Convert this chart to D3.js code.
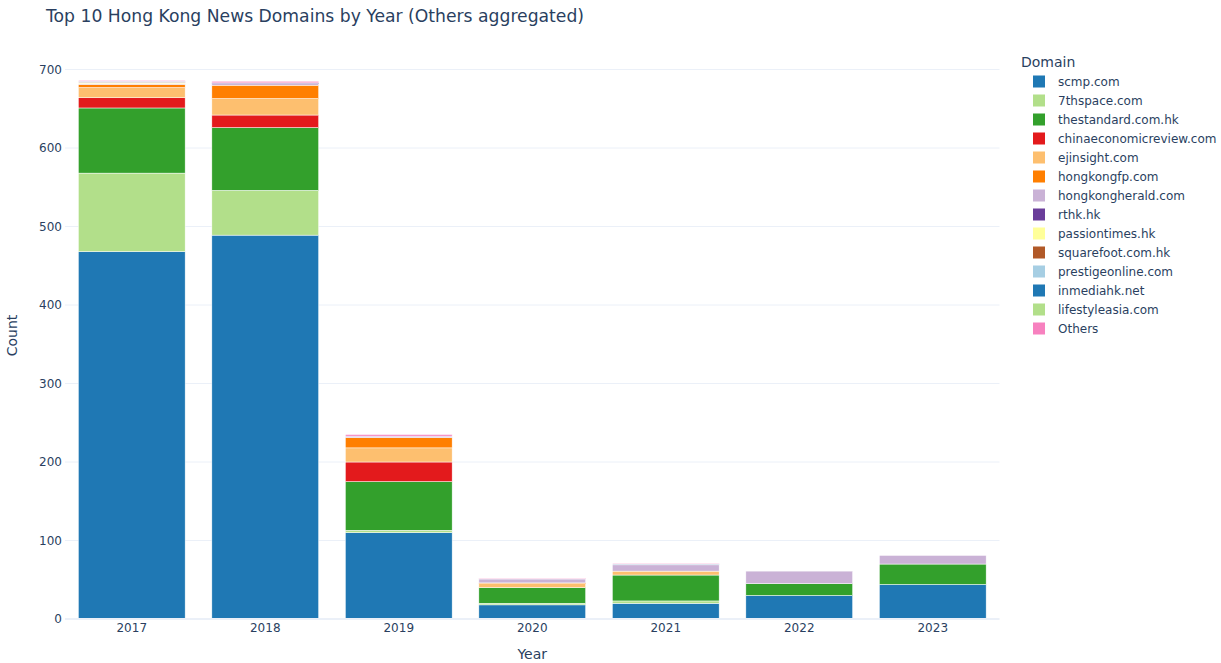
<!DOCTYPE html>
<html>
<head>
<meta charset="utf-8">
<script src="https://cdn.jsdelivr.net/npm/d3@7"></script>
<style>
  html, body { margin: 0; padding: 0; background: #fff; }
  svg { display: block; font-family: "DejaVu Sans", Verdana, sans-serif; }
</style>
</head>
<body>
<svg id="chart" width="1221" height="663"></svg>
<script>
const years = ["2017", "2018", "2019", "2020", "2021", "2022", "2023"];
const domains = ["scmp.com", "7thspace.com", "thestandard.com.hk", "chinaeconomicreview.com",
  "ejinsight.com", "hongkongfp.com", "hongkongherald.com", "rthk.hk", "passiontimes.hk",
  "squarefoot.com.hk", "prestigeonline.com", "inmediahk.net", "lifestyleasia.com", "Others"];
const domainColors = ["#1F78B4", "#B2DF8A", "#33A02C", "#E31A1C", "#FDBF6F", "#FF7F00",
  "#CAB2D6", "#6A3D9A", "#FFFF99", "#B15928", "#A6CEE3", "#1F78B4", "#B2DF8A", "#F781BF"];

// values per domain, one entry per year (2017..2023)
const scmp           = [468, 489, 110, 18, 20, 30, 44];
const seventhspace   = [100, 57, 3, 2, 3, 0, 0];
const thestandard    = [83, 80, 62, 20, 33, 15, 26];
const chinaeconomic  = [13, 16, 25, 0, 0, 0, 0];
const ejinsight      = [13, 21, 18, 5, 5, 0, 0];
const hongkongfp     = [4, 17, 13, 1, 0, 0, 0];
const hongkongherald = [1, 2, 2, 5, 8, 16, 11];
const rthk           = [0, 1, 0, 0, 0, 0, 0];
const passiontimes   = [1, 0, 0, 0, 0, 0, 0];
const squarefoot     = [1, 0, 0, 0, 0, 0, 0];
const prestigeonline = [0, 0, 0, 0, 0, 0, 0];
const inmediahk      = [1, 0, 0, 0, 1, 0, 0];
const lifestyleasia  = [0, 0, 0, 0, 0, 0, 0];
const others         = [1, 2, 2, 1, 1, 0, 0];

const yTicks = [0, 100, 200, 300, 400, 500, 600, 700];

const seriesValues = [scmp, seventhspace, thestandard, chinaeconomic, ejinsight, hongkongfp,
  hongkongherald, rthk, passiontimes, squarefoot, prestigeonline, inmediahk, lifestyleasia, others];

const table = years.map((y, i) => {
  const row = { year: y };
  domains.forEach((d, j) => { row[d] = seriesValues[j][i]; });
  return row;
});

const svg = d3.select("#chart");
const margin = { left: 65, right: 999.5, top: 52, bottom: 619 };
const textColor = "#2a3f5f";
const gridColor = "#EBF0F8";
const fontFam = '"DejaVu Sans", Verdana, sans-serif';

const x = d3.scaleBand().domain(years).range([margin.left, margin.right]).paddingInner(0.2).paddingOuter(0.1);
const y = d3.scaleLinear().domain([0, 700]).range([619, 69.5]);

// gridlines
const gridG = svg.append("g");
gridG.selectAll("line").data(yTicks.filter(t => t > 0)).join("line")
  .attr("x1", margin.left).attr("x2", margin.right)
  .attr("y1", d => y(d)).attr("y2", d => y(d))
  .attr("stroke", gridColor).attr("stroke-width", 1);

// stacked bars
const stack = d3.stack().keys(domains);
const stacked = stack(table);
const barsG = svg.append("g");
stacked.forEach((layer, j) => {
  barsG.append("g").attr("fill", domainColors[j])
    .selectAll("rect").data(layer.filter(d => d[1] - d[0] > 0)).join("rect")
    .attr("x", d => x(d.data.year))
    .attr("width", x.bandwidth())
    .attr("y", d => y(d[1]))
    .attr("height", d => y(d[0]) - y(d[1]))
    .attr("stroke", "#fff").attr("stroke-width", 0.5);
});

// zero line
svg.append("line").attr("x1", margin.left).attr("x2", margin.right)
  .attr("y1", y(0)).attr("y2", y(0)).attr("stroke", gridColor).attr("stroke-width", 2);

// y axis
const yAxis = d3.axisLeft(y).tickValues(yTicks).tickSize(0).tickPadding(0);
const yg = svg.append("g").attr("transform", `translate(${margin.left - 3},0)`).call(yAxis);
yg.select(".domain").remove();
yg.selectAll("text").attr("fill", textColor).style("font-size", "12px").style("font-family", fontFam);

// x axis
const xAxis = d3.axisBottom(x).tickSize(0).tickPadding(0);
const xg = svg.append("g").attr("transform", `translate(0,${y(0) + 4})`).call(xAxis);
xg.select(".domain").remove();
xg.selectAll("text").attr("fill", textColor).style("font-size", "12px").style("font-family", fontFam);

// axis titles
svg.append("text").attr("x", (margin.left + margin.right) / 2).attr("y", 659)
  .attr("text-anchor", "middle").attr("fill", textColor).style("font-size", "14px").text("Year");
svg.append("text").attr("transform", `translate(17,${(y(0) + 52) / 2}) rotate(-90)`)
  .attr("text-anchor", "middle").attr("fill", textColor).style("font-size", "14px").text("Count");

// title
svg.append("text").attr("x", 46).attr("y", 22).attr("fill", textColor)
  .style("font-size", "17.2px").text("Top 10 Hong Kong News Domains by Year (Others aggregated)");

// legend
const leg = svg.append("g");
leg.append("text").attr("x", 1021).attr("y", 67).attr("fill", textColor)
  .style("font-size", "14px").text("Domain");
const items = leg.selectAll("g.item").data(domains).join("g").attr("class", "item")
  .attr("transform", (d, i) => `translate(0,${81.5 + i * 19})`);
items.append("rect").attr("x", 1033).attr("y", -6).attr("width", 12).attr("height", 12)
  .attr("fill", (d, i) => domainColors[i]);
items.append("text").attr("x", 1058).attr("y", 4.3).attr("fill", textColor)
  .style("font-size", "12px").text(d => d);
</script>
</body>
</html>
